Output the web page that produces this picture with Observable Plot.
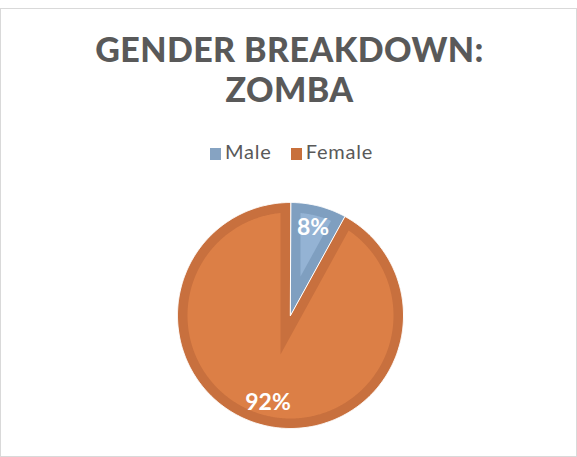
<!DOCTYPE html>
<html>
<head>
<meta charset="utf-8">
<script src="https://cdn.jsdelivr.net/npm/d3@7"></script>
<script src="https://cdn.jsdelivr.net/npm/@observablehq/plot@0.6"></script>
<style>
  html, body { margin: 0; padding: 0; background: #fff; }
  #wrap { position: relative; width: 577px; height: 457px; overflow: hidden; font-family: Lato, "Open Sans", sans-serif; }
  #frame { position: absolute; left: 0; top: 8px; width: 575px; height: 447px; border: 1px solid #d9d9d9; box-sizing: content-box; }
  #chart { position: absolute; left: 0; top: 0; }
  #title { position: absolute; left: 1px; width: 577px; top: 29px; text-align: center; color: #595959;
           font-weight: 900; font-size: 34px; line-height: 40px; letter-spacing: 0.4px; }
  #legend { position: absolute; left: 210px; top: 140px; text-align: left; color: #595959;
            font-size: 20px; line-height: 22.8px; white-space: nowrap; letter-spacing: 0.8px; }
  .item { display: inline-block; margin-right: 19px; }
  .sw { display: inline-block; width: 11px; height: 12px; margin-right: 4px; vertical-align: -1px; }
</style>
</head>
<body>
<div id="wrap">
  <div id="frame"></div>
  <div id="chart"></div>
  <div id="title"></div>
  <div id="legend"></div>
</div>
<script>
// ---- data ----
const titleLines = ["GENDER BREAKDOWN:", "ZOMBA"];
const categories = ["Male", "Female"];
const values = [8, 92];                       // percent
const labels = ["8%", "92%"];
const fillColors = ["#94b3d4", "#dc7f46"];    // slice interior
const edgeColors = ["#7f9fc0", "#c8703e"];    // slice inner border
const legendColors = ["#86a3c2", "#c8703b"];

// ---- layout ----
const W = 577, H = 457;
const cx = 290, cy = 315, R = 113;           // pixel centre / radius
const border = 10 / R;                        // inner border width (unit radius)
const labelR = 0.8;

document.getElementById("title").innerHTML = titleLines.map(t => `<div>${t}</div>`).join("");
document.getElementById("legend").innerHTML = categories.map((c, i) =>
  `<span class="item"><span class="sw" style="background:${legendColors[i]}"></span>${c}</span>`).join("");

const arcs = d3.pie().sort(null).startAngle(0).endAngle(2 * Math.PI)(values);
const pt = (a, r) => [r * Math.sin(a), r * Math.cos(a)];

const outer = [], inner = [], lab = [];
arcs.forEach((arc, i) => {
  const a0 = arc.startAngle, a1 = arc.endAngle;
  const n = Math.max(8, Math.ceil((a1 - a0) / (Math.PI / 360)));
  // outer slice
  outer.push({k: i, x: 0, y: 0});
  for (let j = 0; j <= n; j++) {
    const [x, y] = pt(a0 + (a1 - a0) * j / n, 1);
    outer.push({k: i, x, y});
  }
  // inset slice (offset lines meet at P)
  const d = border, rho = 1 - d;
  const n0 = [Math.cos(a0), -Math.sin(a0)];
  const n1 = [-Math.cos(a1), Math.sin(a1)];
  const det = n0[0] * n1[1] - n0[1] * n1[0];
  const P = [d * (n1[1] - n0[1]) / det, d * (n0[0] - n1[0]) / det];
  const da = Math.asin(d / rho);
  const b0 = a0 + da, b1 = a1 - da;
  inner.push({k: i, x: P[0], y: P[1]});
  for (let j = 0; j <= n; j++) {
    const [x, y] = pt(b0 + (b1 - b0) * j / n, rho);
    inner.push({k: i, x, y});
  }
  const [lx, ly] = pt((a0 + a1) / 2, labelR);
  lab.push({k: i, x: lx, y: ly, t: labels[i]});
});

const plot = Plot.plot({
  width: W, height: H,
  margin: 0,
  x: {domain: [-cx / R, (W - cx) / R], range: [0, W], axis: null},
  y: {domain: [-(H - cy) / R, cy / R], range: [H, 0], axis: null},
  marks: [
    Plot.line(outer, {x: "x", y: "y", z: "k", fill: d => edgeColors[d.k], stroke: "#fff", strokeWidth: 1, curve: "linear-closed"}),
    Plot.line(inner, {x: "x", y: "y", z: "k", fill: d => fillColors[d.k], stroke: "none", curve: "linear-closed"}),
    Plot.text(lab, {x: "x", y: "y", text: "t", fill: "#fff", fontSize: 23, fontWeight: "bold", fontFamily: "Lato, sans-serif"})
  ]
});
document.getElementById("chart").appendChild(plot);
</script>
</body>
</html>
